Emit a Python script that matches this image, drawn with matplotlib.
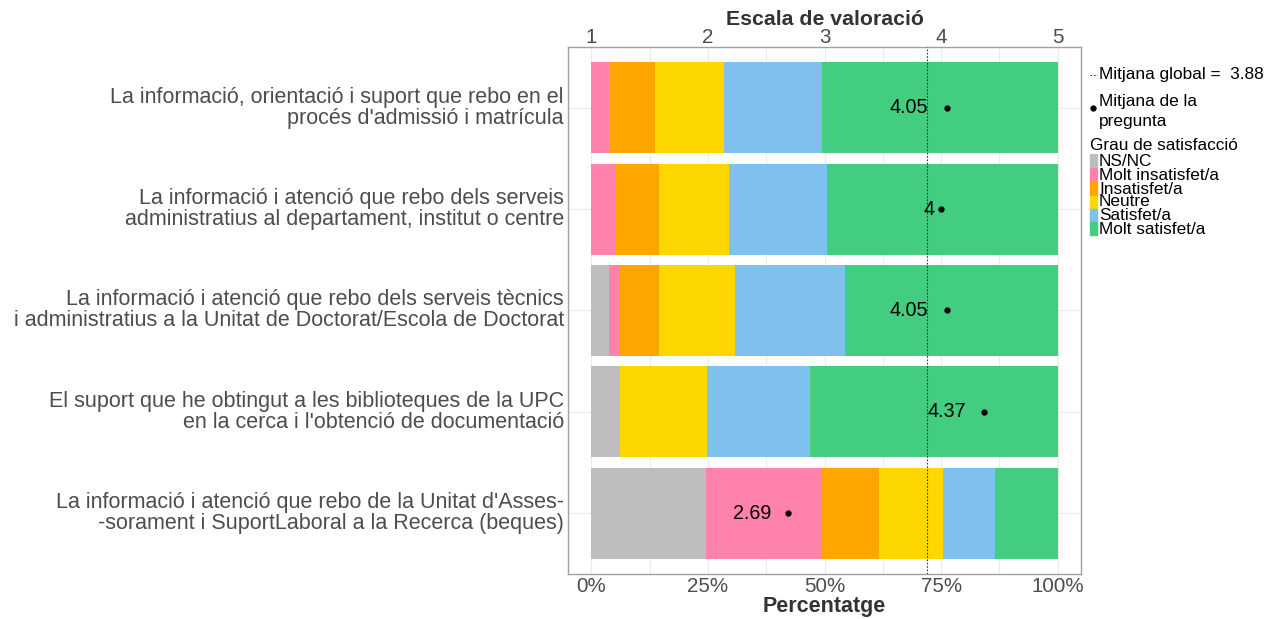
import matplotlib
matplotlib.use("Agg")
import matplotlib.pyplot as plt
from matplotlib.patches import Rectangle
from matplotlib.lines import Line2D
import numpy as np

plt.rcParams['font.family'] = ['Liberation Sans', 'DejaVu Sans']

# ---------------- data ----------------
questions = [
    "La informació, orientació i suport que rebo en el\nprocés d'admissió i matrícula",
    "La informació i atenció que rebo dels serveis\nadministratius al departament, institut o centre",
    "La informació i atenció que rebo dels serveis tècnics\ni administratius a la Unitat de Doctorat/Escola de Doctorat",
    "El suport que he obtingut a les biblioteques de la UPC\nen la cerca i l'obtenció de documentació",
    "La informació i atenció que rebo de la Unitat d'Asses-\n-sorament i SuportLaboral a la Recerca (beques)",
]
categories = ["NS/NC", "Molt insatisfet/a", "Insatisfet/a", "Neutre", "Satisfet/a", "Molt satisfet/a"]
ns_nc            = [0.0, 0.0, 3.8, 6.1, 24.6]
molt_insatisfet  = [3.9, 5.0, 2.3, 0.0, 24.8]
insatisfet       = [9.7, 9.6, 8.5, 0.0, 12.3]
neutre           = [14.9, 15.0, 16.2, 18.6, 13.7]
satisfet         = [20.9, 20.9, 23.5, 22.1, 11.1]
molt_satisfet    = [50.6, 49.5, 45.7, 53.2, 13.5]
means = [4.05, 4.00, 4.05, 4.37, 2.69]
mean_labels = ["4.05", "4", "4.05", "4.37", "2.69"]
global_mean = 3.88
scale_ticks = [1, 2, 3, 4, 5]
pct_ticks = [0, 25, 50, 75, 100]
pct_labels = ["0%", "25%", "50%", "75%", "100%"]

colors = ["#BEBEBE", "#FF82AB", "#FFA500", "#FFD700", "#7EC0EE", "#43CD80"]
label_offsets_px = [-19, -6, -19, -18, -17]

# ---------------- figure ----------------
W, H = 1283, 619
fig = plt.figure(figsize=(W / 100, H / 100), dpi=100)
L, R, T, B = 568, 1081, 47, 574
ax = fig.add_axes([L / W, 1 - B / H, (R - L) / W, (B - T) / H])

series = [ns_nc, molt_insatisfet, insatisfet, neutre, satisfet, molt_satisfet]
n = len(questions)
ypos = np.arange(n, 0, -1)  # first question on top
left = np.zeros(n)
for vals, col, cat in zip(series, colors, categories):
    v = np.array(vals)
    ax.barh(ypos, v, left=left, height=0.9, color=col, edgecolor='none', label=cat, zorder=2)
    left += v

def to_pct(m):
    return (m - 1) / 4 * 100

ax.axvline(to_pct(global_mean), color='#333333', linestyle=(0, (1.5, 1.5)), linewidth=0.8, zorder=4)

for y, m, lab, off in zip(ypos, means, mean_labels, label_offsets_px):
    x = to_pct(m)
    ax.plot([x], [y], 'o', color='black', markersize=3.5, zorder=5)
    ax.annotate(lab, (x, y), xytext=(off * 0.72, 0), textcoords='offset points',
                ha='right', va='center', fontsize=14.2, color='black', zorder=6)

ax.set_xlim(-5, 105)
ax.set_ylim(0.4, n + 0.6)

ax.set_xticks(pct_ticks)
ax.set_xticklabels(pct_labels)
ax.set_xticks([12.5, 37.5, 62.5, 87.5], minor=True)
ax.set_yticks(ypos)
ax.set_yticklabels(questions, linespacing=1.0, va='center')
ax.tick_params(axis='both', which='both', length=0)
ax.tick_params(axis='x', labelsize=14.8, labelcolor='#4D4D4D', pad=2)
ax.tick_params(axis='y', labelsize=15.5, labelcolor='#4D4D4D', pad=3)
for t in ax.get_yticklabels():
    t.set_y(t.get_position()[1])
ax.grid(True, which='both', color='#EBEBEB', linewidth=0.8, zorder=0)
ax.set_axisbelow(True)
for s in ax.spines.values():
    s.set_color('#A0A0A0')
    s.set_linewidth(1.0)
ax.set_xlabel("Percentatge", fontsize=15.5, fontweight='bold', color='#333333', labelpad=0)

ax2 = ax.twiny()
ax2.set_xlim(ax.get_xlim())
ax2.set_xticks([to_pct(s) for s in scale_ticks])
ax2.set_xticklabels([str(s) for s in scale_ticks])
ax2.tick_params(axis='x', length=0, labelsize=14.8, labelcolor='#4D4D4D', pad=0)
ax2.set_xlabel("Escala de valoració", fontsize=15.3, fontweight='bold', color='#333333', labelpad=2)
for s in ax2.spines.values():
    s.set_visible(False)

# ---------------- legend (manual) ----------------
def fy(py):
    return 1 - py / H

def fx(px):
    return px / W

LF = 12.4
fig.add_artist(Line2D([fx(1090), fx(1097)], [fy(75), fy(75)], color='#333333',
                      linestyle=(0, (1.5, 1.5)), linewidth=0.8))
fig.text(fx(1099), fy(75), "Mitjana global =  3.88", fontsize=LF, va='center', ha='left', color='black')
fig.add_artist(Line2D([fx(1093)], [fy(108)], marker='o', color='black', markersize=3.5, linestyle='none'))
fig.text(fx(1099), fy(111.5), "Mitjana de la\npregunta", fontsize=LF, va='center', ha='left',
         color='black', linespacing=1.35)
fig.text(fx(1090), fy(146), "Grau de satisfacció", fontsize=LF, va='center', ha='left', color='black')
key_tops = [154, 168, 182, 196, 209, 222]
text_y = [162, 176, 189, 202, 216, 229]
for kt, ty, col, cat in zip(key_tops, text_y, colors, categories):
    fig.add_artist(Rectangle((fx(1090), fy(kt + 13)), fx(7), 13 / H, color=col,
                             transform=fig.transFigure))
    fig.text(fx(1099), fy(ty), cat, fontsize=LF, va='center', ha='left', color='black')

fig.savefig("out.png", dpi=100)
